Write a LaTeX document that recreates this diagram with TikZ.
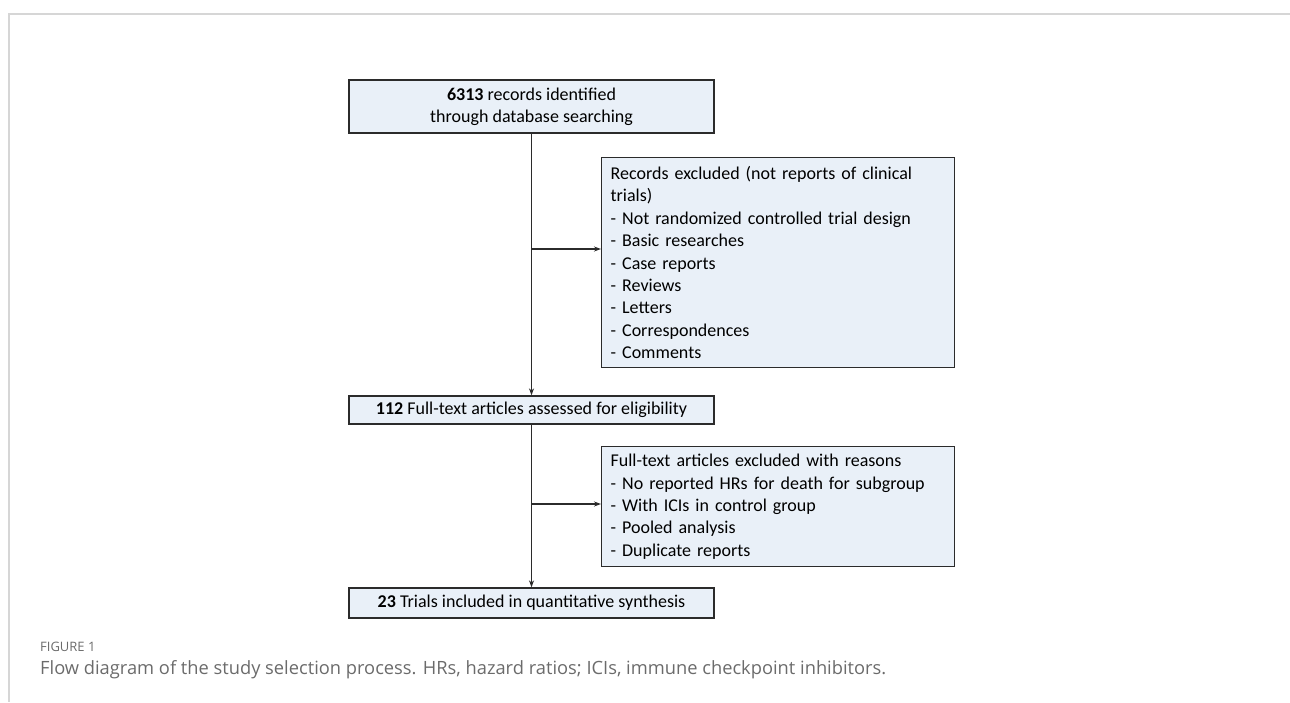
\documentclass[tikz,border=0pt]{standalone}
\usepackage{fontspec}
\setmainfont{Carlito}
\newfontfamily\capfont{Open Sans}
\usetikzlibrary{arrows.meta,calc}
\definecolor{boxfill}{HTML}{E9F0F8}
\definecolor{boxline}{HTML}{2B2B2B}
\definecolor{framegray}{HTML}{D6D6D6}
\definecolor{capgray}{HTML}{6B6B6B}
\begin{document}
\begin{tikzpicture}[x=1pt,y=-1pt,
  flowbox/.style={draw=boxline,fill=boxfill,line width=1.3pt,inner sep=0pt,
    font=\fontsize{18}{22.4}\selectfont,align=center},
  exbox/.style={draw=boxline,fill=boxfill,line width=1.3pt,inner xsep=9pt,inner ysep=0pt,
    font=\fontsize{18}{22.4}\selectfont,align=left,text width=335pt,anchor=north west},
  conn/.style={line width=1.2pt,draw=boxline,-{Stealth[length=7pt,width=5pt]}},
  frameline/.style={draw=framegray,line width=1.5pt}]
\useasboundingbox (0,0) rectangle (1290,702);
\draw[frameline] (1290,14) -- (9,14) -- (9,702);
\node[flowbox,minimum width=365pt,minimum height=53pt] (top) at (531.5,106.5)
  {\textbf{6313} records identified\\through database searching};
\node[exbox,minimum height=210pt] (ex1) at (601,157)
  {Records excluded (not reports of clinical\\trials)\\
   - Not randomized controlled trial design\\
   - Basic researches\\
   - Case reports\\
   - Reviews\\
   - Letters\\
   - Correspondences\\
   - Comments};
\node[flowbox,minimum width=365pt,minimum height=28pt] (mid) at (531.5,410)
  {\textbf{112} Full-text articles assessed for eligibility};
\node[exbox,minimum height=120pt] (ex2) at (601,446)
  {Full-text articles excluded with reasons\\
   - No reported HRs for death for subgroup\\
   - With ICIs in control group\\
   - Pooled analysis\\
   - Duplicate reports};
\node[flowbox,minimum width=365pt,minimum height=30pt] (bot) at (531.5,603)
  {\textbf{23} Trials included in quantitative synthesis};
\draw[conn] (top.south) -- (mid.north);
\draw[conn] (mid.south) -- (bot.north);
\coordinate (j1) at (531.5,249);
\coordinate (j2) at (531.5,504);
\draw[conn] (j1) -- (j1 -| ex1.west);
\draw[conn] (j2) -- (j2 -| ex2.west);
\node[anchor=west,inner sep=0pt,text=capgray,font=\capfont\fontsize{13}{15}\selectfont] (figlabel) at (40,647) {FIGURE 1};
\node[anchor=west,inner sep=0pt,text=capgray] (caption) at (40,670)
  {\resizebox{846pt}{!}{\capfont\fontsize{17}{20}\selectfont Flow diagram of the study selection process. HRs, hazard ratios; ICIs, immune checkpoint inhibitors.}};
\end{tikzpicture}
\end{document}
